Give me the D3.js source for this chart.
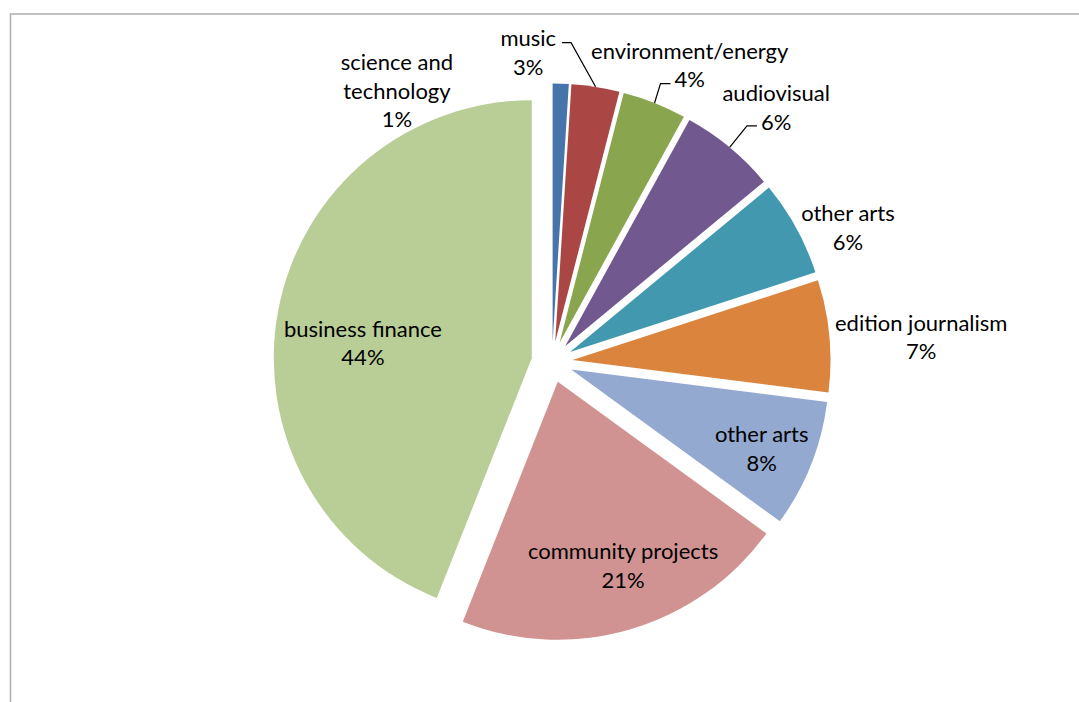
<!DOCTYPE html>
<html>
<head>
<meta charset="utf-8">
<script src="https://cdn.jsdelivr.net/npm/d3@7"></script>
<style>
  body { margin: 0; background: #fff; }
  text { font-family: Lato, "DejaVu Sans", sans-serif; fill: #000; }
</style>
</head>
<body>
<script>
// categories in the order of the pie (clockwise from 12 o'clock)
const categories = ["science and technology", "music", "environment/energy", "audiovisual",
  "other arts", "edition journalism", "other arts", "community projects", "business finance"]
// how the labels are wrapped in the picture
const labelLines = [["science and", "technology"], ["music"], ["environment/energy"], ["audiovisual"],
  ["other arts"], ["edition journalism"], ["other arts"], ["community projects"], ["business finance"]]
// share of each category (%)
const values = [1, 3, 4, 6, 6, 7, 8, 21, 44]
const colors = ["#4674ab", "#aa4643", "#89a54e", "#71588f", "#4198af", "#db843d", "#93a9cf", "#d19392", "#b9cd96"]

// where Excel put the labels: angle (deg, clockwise from top) and distance from the pie centre
const labelAngle = [330.2, 355.6, 24.9, 41.4, 65.6, 86.2, 112.5, 160.8, 275.7]
const labelDist = [312, 310, 327, 339, 325, 370, 227, 216, 190]
// leader lines: which text line they hook on and from which side
const leaders = [null, { line: 0, side: "right" }, { line: 1, side: "left" }, { line: 1, side: "left" },
  null, null, null, null, null]

const width = 1079, height = 702
const cx = 552, cy = 362
const radius = 258, explode = 20.6
const lineH = 28.5
const rad = Math.PI / 180

const svg = d3.select("body").append("svg")
  .attr("width", width)
  .attr("height", height)

// cadre du graphique
svg.append("rect")
  .attr("x", 10.5)
  .attr("y", 14)
  .attr("width", 1200)
  .attr("height", 800)
  .attr("fill", "none")
  .attr("stroke", "#adadad")
  .attr("stroke-width", 1.5)

const total = d3.sum(values)
const pct = d3.format(".0%")

const pie = d3.pie().sort(null).value(d => d)
const arcs = pie(values)

const arc = d3.arc().innerRadius(0).outerRadius(radius)

const g = svg.append("g").attr("transform", `translate(${cx},${cy})`)

// each slice pushed out along its middle angle
const mid = d => (d.startAngle + d.endAngle) / 2
const shift = d => d3.pointRadial(mid(d), explode)

g.selectAll("path")
  .data(arcs)
  .join("path")
  .attr("d", arc)
  .attr("fill", (d, i) => colors[i])
  .attr("transform", d => `translate(${shift(d)[0]},${shift(d)[1]})`)

// labels
const labels = g.selectAll("g.label")
  .data(arcs)
  .join("g")
  .attr("class", "label")
  .attr("transform", (d, i) => {
    const p = d3.pointRadial(labelAngle[i] * rad, labelDist[i])
    return `translate(${p[0]},${p[1]})`
  })

labels.each(function (d, i) {
  const lines = labelLines[i].concat([pct(values[i] / total)])
  const t = d3.select(this).append("text")
    .attr("text-anchor", "middle")
    .style("font-size", "22px")
  lines.forEach((s, k) => {
    t.append("tspan")
      .attr("x", 0)
      .attr("y", (k - (lines.length - 1) / 2) * lineH)
      .attr("dy", "0.35em")
      .text(s)
  })
})

// leader lines from the middle of the arc to the label
labels.each(function (d, i) {
  const L = leaders[i]
  if (!L) return
  const lines = labelLines[i].concat([pct(values[i] / total)])
  const tspan = d3.select(this).selectAll("tspan").nodes()[L.line]
  const w = tspan.getComputedTextLength()
  const lp = d3.pointRadial(labelAngle[i] * rad, labelDist[i])
  const ly = lp[1] + (L.line - (lines.length - 1) / 2) * lineH + 4
  const ex = L.side === "right" ? lp[0] + w / 2 + 6 : lp[0] - w / 2 - 4
  const elbow = L.side === "right" ? ex + 9 : ex - 10
  const s = shift(d)
  const a = d3.pointRadial(mid(d), radius)
  g.append("polyline")
    .attr("points", [[s[0] + a[0], s[1] + a[1]], [elbow, ly], [ex, ly]].map(p => p.join(",")).join(" "))
    .attr("fill", "none")
    .attr("stroke", "#000")
    .attr("stroke-width", 1.2)
})
</script>
</body>
</html>
